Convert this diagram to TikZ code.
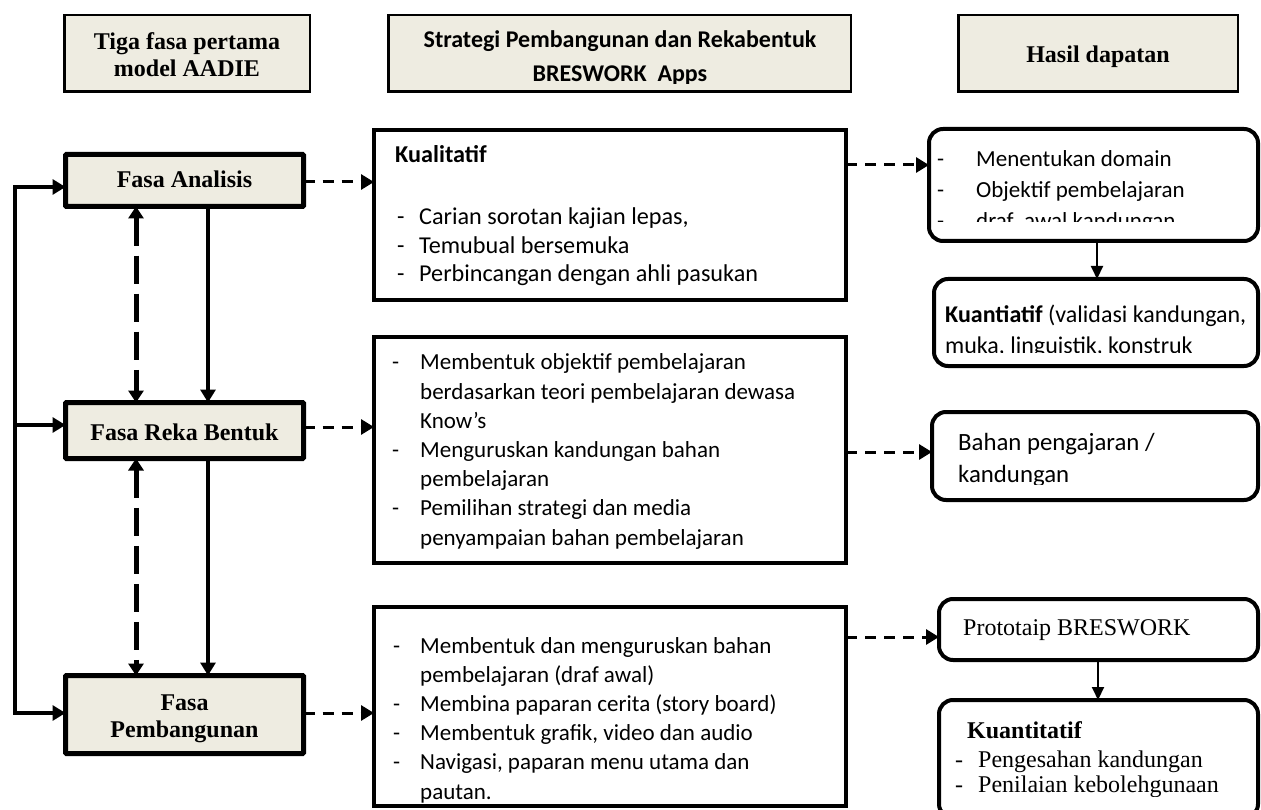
\documentclass[tikz,border=0pt]{standalone}
\usepackage{fontspec}
\setmainfont{Liberation Serif}
\newfontfamily\calfont{Carlito}
\usetikzlibrary{arrows.meta}
\definecolor{tanbg}{HTML}{EEECE1}
\begin{document}
\begin{tikzpicture}[x=1pt,y=-1pt,
  hdr/.style={draw, line width=2.5pt, fill=tanbg, inner sep=0pt, outer sep=0pt},
  fasa/.style={draw, line width=5pt, fill=tanbg, inner sep=0pt, outer sep=0pt, rounded corners=1pt},
  midbox/.style={draw, line width=4pt, inner sep=0pt, outer sep=0pt},
  resbox/.style={draw, line width=4pt, inner sep=0pt, outer sep=0pt, rounded corners=14pt},
  serb/.style={inner sep=0pt, font=\fontsize{24}{27}\selectfont\bfseries},
  serr/.style={inner sep=0pt, font=\fontsize{24}{27}\selectfont},
  calr/.style={inner sep=0pt, font=\calfont\fontsize{23}{29.2}\selectfont},
  calk/.style={inner sep=0pt, font=\calfont\fontsize{24.2}{28.5}\selectfont},
  calb/.style={inner sep=0pt, font=\calfont\bfseries\fontsize{24}{34}\selectfont},
  bigtip/.style={-{Triangle[length=13pt,width=15pt]}},
  looparr/.style={line width=4pt, line join=miter},
  solidv/.style={line width=4.5pt},
  dashv/.style={line width=5pt, dash pattern=on 28pt off 10pt},
  dashh/.style={line width=3pt, dash pattern=on 11pt off 8pt},
  smallv/.style={line width=2pt, -{Triangle[length=13pt,width=12pt]}}
]
\clip (0,0) rectangle (1261,810);
\fill[white] (0,0) rectangle (1261,810);

% ---------- headers ----------
\node[hdr, minimum width=245.5pt, minimum height=76.5pt] (H1) at (187,53.5) {};
\node[serb, anchor=base] (H1t) at (187,50) {\begin{tabular}[t]{@{}c@{}}Tiga fasa pertama\\model AADIE\end{tabular}};

\node[hdr, minimum width=462.5pt, minimum height=76.5pt] (H2) at (619.5,53.5) {};
\begin{scope}
  \clip (389,15) rectangle (850,84);
  \node[calb, anchor=base] (H2t) at (620,48) {\begin{tabular}[t]{@{}c@{}}Strategi Pembangunan dan Rekabentuk\\BRESWORK\ \ Apps\end{tabular}};
\end{scope}

\node[hdr, minimum width=279.5pt, minimum height=76.5pt] (H3) at (1098,53.5) {};
\node[serb, anchor=base] (H3t) at (1098,63) {Hasil dapatan};

% ---------- phase boxes ----------
\node[fasa, minimum width=238pt, minimum height=52pt] (A) at (184.5,180.5) {};
\node[serb, anchor=base] (At) at (184.5,188) {Fasa Analisis};
\node[fasa, minimum width=238pt, minimum height=56pt] (B) at (184.5,430.5) {};
\node[serb, anchor=base] (Bt) at (184.5,440) {Fasa Reka Bentuk};
\node[fasa, minimum width=238pt, minimum height=78pt] (C) at (184.5,714.5) {};
\node[serb, anchor=base] (Ct) at (184.5,710) {\begin{tabular}[t]{@{}c@{}}Fasa\\Pembangunan\end{tabular}};

% ---------- middle boxes ----------
\node[midbox, minimum width=472pt, minimum height=170pt] (K) at (610,215) {};
\node[calk, anchor=base west] (Kh) at (395,163) {\bfseries Kualitatif};
\node[calk, anchor=base west] (Kt) at (397,225) {\begin{tabular}[t]{@{}p{22pt}@{}l@{}}
- & Carian sorotan kajian lepas,\\
- & Temubual bersemuka\\
- & Perbincangan dengan ahli pasukan\end{tabular}};

\node[midbox, minimum width=472pt, minimum height=226pt] (M) at (610,450) {};
\node[calr, anchor=base west] (Mt) at (392,370) {\begin{tabular}[t]{@{}p{28pt}@{}l@{}}
- & Membentuk objektif pembelajaran\\
  & berdasarkan teori pembelajaran dewasa\\
  & Know’s\\
- & Menguruskan kandungan bahan\\
  & pembelajaran\\
- & Pemilihan strategi dan media\\
  & penyampaian bahan pembelajaran\end{tabular}};

\node[midbox, minimum width=472pt, minimum height=199pt] (P) at (610,706.5) {};
\node[calr, anchor=base west] (Pt) at (393,653) {\begin{tabular}[t]{@{}p{27pt}@{}l@{}}
- & Membentuk dan menguruskan bahan\\
  & pembelajaran (draf awal)\\
- & Membina paparan cerita (story board)\\
- & Membentuk grafik, video dan audio\\
- & Navigasi, paparan menu utama dan\\
  & pautan.\end{tabular}};

% ---------- result boxes ----------
\node[resbox, minimum width=329pt, minimum height=112pt] (R1) at (1093.5,185) {};
\begin{scope}
  \clip (930,130) rectangle (1256,222);
  \node[calr, anchor=base west, font=\calfont\fontsize{23}{31}\selectfont] (R1t) at (937,167) {\begin{tabular}[t]{@{}p{39pt}@{}l@{}}
  - & Menentukan domain\\
  - & Objektif pembelajaran\\
  - & draf\ \ awal kandungan\end{tabular}};
\end{scope}

\node[resbox, minimum width=324pt, minimum height=87pt] (R2) at (1096,322.5) {};
\begin{scope}
  \clip (935,280) rectangle (1256,352);
  \node[calr, anchor=base west, font=\calfont\fontsize{24}{31}\selectfont] (R2t) at (945,323) {\begin{tabular}[t]{@{}l@{}}
  \textbf{Kuantiatif} (validasi kandungan,\\
  muka, linguistik, konstruk\end{tabular}};
\end{scope}

\node[resbox, minimum width=326pt, minimum height=88pt] (R3) at (1095,456) {};
\begin{scope}
  \clip (933,413) rectangle (1256,484);
  \node[calr, anchor=base west, font=\calfont\fontsize{24.8}{32}\selectfont] (R3t) at (958,450) {\begin{tabular}[t]{@{}l@{}}
  Bahan pengajaran /\\
  kandungan\end{tabular}};
\end{scope}

\node[resbox, minimum width=319pt, minimum height=61pt] (R4) at (1098.5,629.5) {};
\node[serr, anchor=base west] (R4t) at (963,635) {Prototaip BRESWORK};

\node[resbox, minimum width=319pt, minimum height=118pt] (R5) at (1098.5,759) {};
\begin{scope}
  \clip (940,701) rectangle (1256,796);
  \node[serr, anchor=base west] (R5h) at (967,738) {\bfseries Kuantitatif};
  \node[serr, anchor=base west] (R5t) at (955,767) {\begin{tabular}[t]{@{}p{23pt}@{}l@{}}
  - & Pengesahan kandungan\\[-1.5pt]
  - & Penilaian kebolehgunaan\end{tabular}};
\end{scope}

% ---------- connectors ----------
\coordinate (L1) at (15,187);
\coordinate (L2) at (15,425);
\coordinate (L3) at (15,713);
\draw[looparr, {Triangle[length=13pt,width=15pt]}-{Triangle[length=13pt,width=15pt]}]
  (L1 -| A.west) -- (L1) -- (L3) -- (L3 -| C.west);
\draw[looparr, bigtip] (L2) -- (L2 -| B.west);

\coordinate (dx) at (136,0);
\coordinate (sx) at (208,0);
\draw[dashv, {Triangle[length=12pt,width=15pt]}-{Triangle[length=12pt,width=15pt]}] (A.south -| dx) -- (B.north -| dx);
\draw[dashv, {Triangle[length=12pt,width=15pt]}-{Triangle[length=12pt,width=15pt]}] (B.south -| dx) -- (C.north -| dx);
\draw[solidv, bigtip] (A.south -| sx) -- (B.north -| sx);
\draw[solidv, bigtip] (B.south -| sx) -- (C.north -| sx);

\coordinate (ya) at (0,182);
\coordinate (yb) at (0,427);
\coordinate (yc) at (0,713);
\draw[dashh, bigtip] (A.east |- ya) -- (K.west |- ya);
\draw[dashh, bigtip] (B.east |- yb) -- (M.west |- yb);
\draw[dashh, bigtip] (C.east |- yc) -- (P.west |- yc);

\coordinate (yr1) at (0,165);
\coordinate (yr3) at (0,452);
\coordinate (yr4) at (0,637);
\draw[dashh, bigtip] (K.east |- yr1) -- (R1.west |- yr1);
\draw[dashh, bigtip] (M.east |- yr3) -- (R3.west |- yr3);
\draw[dashh, bigtip] (P.east |- yr4) -- (R4.west |- yr4);

\coordinate (rx1) at (1097,0);
\coordinate (rx2) at (1098,0);
\draw[smallv] (R1.south -| rx1) -- (R2.north -| rx1);
\draw[smallv] (R4.south -| rx2) -- (R5.north -| rx2);
\end{tikzpicture}
\end{document}
